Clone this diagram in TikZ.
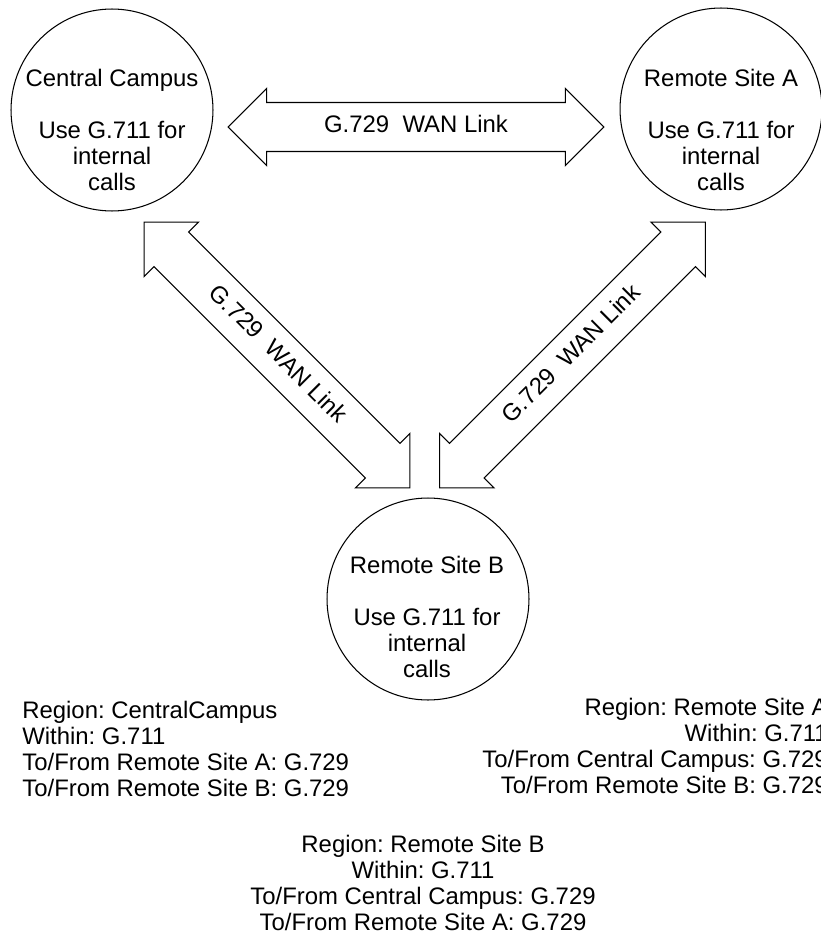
\documentclass[tikz,border=0pt]{standalone}
\usepackage{fontspec}
\setmainfont{Liberation Sans}
\usetikzlibrary{shapes.arrows}

\frenchspacing
\newcommand{\sitefont}{\fontsize{13.6pt}{14.8pt}\selectfont}

\tikzset{
  site/.style={draw, circle, minimum size=4.04cm, inner sep=0pt, line width=0.6pt},
  sitetext/.style={align=center, inner sep=0pt, font=\sitefont},
  wanlink/.style={draw, double arrow, double arrow head extend=0.28cm,
    minimum height=7.52cm, text height=0.34cm, text depth=0.1cm,
    inner ysep=0.26cm, inner xsep=0pt, line width=0.6pt, font=\sitefont},
  region/.style={inner sep=0pt, font=\sitefont}
}

\begin{document}
\begin{tikzpicture}[x=0.02cm, y=-0.02cm]
    % Page frame (pixel grid of the reference)
    \useasboundingbox (0,0) rectangle (821,936);

    % The three sites
    \node[site] (campus) at (112,110) {};
    \node[site] (siteA) at (721,109) {};
    \node[site] (siteB) at (428,599) {};

    % Texts inside the sites
    \node[sitetext] (campusText) at (112,130) {Central Campus\\[\baselineskip]Use G.711 for\\internal\\calls};
    \node[sitetext] (siteAText) at (721,130) {Remote Site A\\[\baselineskip]Use G.711 for\\internal\\calls};
    \node[sitetext] (siteBText) at (427,617) {Remote Site B\\[\baselineskip]Use G.711 for\\internal\\calls};

    % WAN links between the sites
    \node[wanlink] (linkCA) at (416,127) {G.729\ \ WAN Link};
    \node[wanlink, rotate=-45] (linkCB) at (277,355) {G.729\ \ WAN Link};
    \node[wanlink, rotate=45] (linkAB) at (572.5,355) {G.729\ \ WAN Link};

    % Codec summary of each region
    \node[region, anchor=west, align=left] (campusRegion) at (22,749)
      {Region: CentralCampus\\Within: G.711\\To/From Remote Site A: G.729\\To/From Remote Site B: G.729};
    \node[region, anchor=east, align=right] (siteARegion) at (828,746)
      {Region: Remote Site A\\Within: G.711\\To/From Central Campus: G.729\\To/From Remote Site B: G.729};
    \node[region, align=center] (siteBRegion) at (423,883)
      {Region: Remote Site B\\Within: G.711\\To/From Central Campus: G.729\\To/From Remote Site A: G.729};
\end{tikzpicture}
\end{document}
